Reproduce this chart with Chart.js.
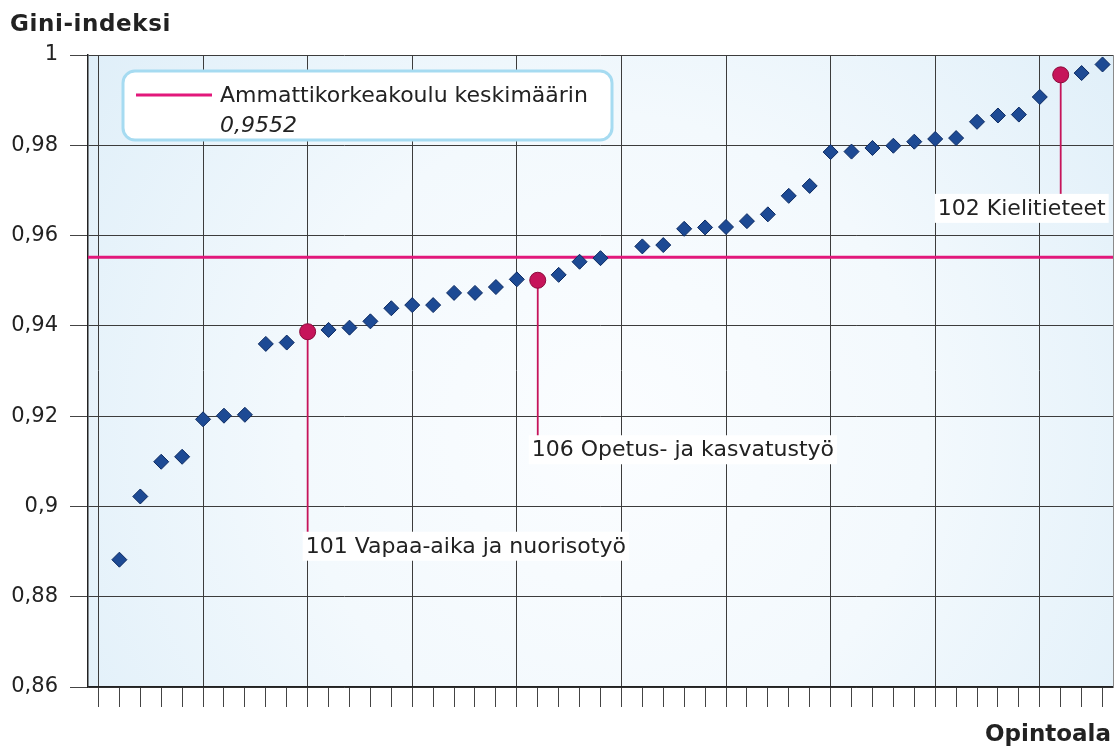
<!DOCTYPE html>
<html>
<head>
<meta charset="utf-8">
<script src="https://cdn.jsdelivr.net/npm/chart.js@4.4.1/dist/chart.umd.min.js"></script>
<style>
  html, body { margin: 0; padding: 0; background: #fff; }
  #wrap { width: 1117px; height: 749px; position: relative; }
</style>
</head>
<body>
<div id="wrap"><canvas id="chart"></canvas></div>
<script>
// Gini index per study field, sorted; slot 0 and slot 25 are empty on the axis
const GINI = [
  null,   0.8882, 0.9022, 0.9099, 0.9110, 0.9193, 0.9201, 0.9203, 0.9360, 0.9363,
  0.9387, 0.9391, 0.9396, 0.9410, 0.9439, 0.9446, 0.9446, 0.9473, 0.9473, 0.9486,
  0.9503, 0.9501, 0.9513, 0.9542, 0.9550, null,   0.9576, 0.9579, 0.9615, 0.9618,
  0.9619, 0.9632, 0.9647, 0.9688, 0.9710, 0.9785, 0.9786, 0.9794, 0.9799, 0.9808,
  0.9814, 0.9816, 0.9852, 0.9866, 0.9868, 0.9907, 0.9956, 0.9960, 0.9979,
];
const HIGHLIGHT = [10, 21, 46];
const HIGHLIGHT_LABELS = ['101 Vapaa-aika ja nuorisotyö', '106 Opetus- ja kasvatustyö', '102 Kielitieteet'];
const MEAN = 0.9552;
const MEAN_LABEL = 'Ammattikorkeakoulu keskimäärin';
const MEAN_TEXT = '0,9552';
const Y_TITLE = 'Gini-indeksi';
const X_TITLE = 'Opintoala';

const FONT = '"DejaVu Sans", Verdana, sans-serif';
const C = {
  diamond: '#1d4a94',
  diamondEdge: '#0c2a62',
  red: '#c6145a',
  redEdge: '#8a0c3b',
  mean: '#e2187b',
  grid: '#3c3c3c',
  axis: '#222',
  text: '#222',
  legendEdge: '#a6dbf1',
};

// where each label box sits relative to its point (pixels)
const LABEL_LAYOUT = [
  { drop: 200, dx: -5, align: 'left' },
  { drop: 155, dx: -9, align: 'left' },
  { drop: 119, dx: 48, align: 'right' },
];

const fmt = v => String(Number(v.toFixed(2))).replace('.', ',');

const decorPlugin = {
  id: 'decor',
  beforeDraw(chart) {
    const { ctx, chartArea: a } = chart;
    const g = ctx.createRadialGradient(610, 430, 0, 610, 430, 700);
    g.addColorStop(0, '#fbfdff');
    g.addColorStop(0.45, '#f3f9fd');
    g.addColorStop(1, '#dcedf8');
    ctx.save();
    ctx.fillStyle = g;
    ctx.fillRect(a.left, a.top, a.right - a.left, a.bottom - a.top);
    ctx.restore();
  },
  beforeDatasetsDraw(chart) {
    const { ctx, chartArea: a, scales: { x, y } } = chart;
    ctx.save();
    // right frame
    ctx.strokeStyle = '#8a8a8a';
    ctx.lineWidth = 1;
    ctx.beginPath();
    ctx.moveTo(a.right + 0.5, a.top);
    ctx.lineTo(a.right + 0.5, a.bottom);
    ctx.stroke();
    // mean line
    const my = y.getPixelForValue(MEAN);
    ctx.strokeStyle = C.mean;
    ctx.lineWidth = 3;
    ctx.beginPath();
    ctx.moveTo(a.left, my);
    ctx.lineTo(a.right, my);
    ctx.stroke();
    // leader lines
    ctx.strokeStyle = C.red;
    ctx.lineWidth = 1.8;
    HIGHLIGHT.forEach((idx, i) => {
      const px = x.getPixelForValue(idx);
      const py = y.getPixelForValue(GINI[idx]);
      ctx.beginPath();
      ctx.moveTo(px, py);
      ctx.lineTo(px, py + LABEL_LAYOUT[i].drop + 2);
      ctx.stroke();
    });
    ctx.restore();
  },
  afterDatasetsDraw(chart) {
    const { ctx, scales: { x, y } } = chart;
    ctx.save();
    ctx.font = `22px ${FONT}`;
    ctx.textBaseline = 'middle';
    HIGHLIGHT.forEach((idx, i) => {
      const L = LABEL_LAYOUT[i];
      const px = x.getPixelForValue(idx);
      const py = y.getPixelForValue(GINI[idx]);
      const w = ctx.measureText(HIGHLIGHT_LABELS[i]).width + 6;
      const top = py + L.drop;
      const left = L.align === 'left' ? px + L.dx : px + L.dx - w;
      ctx.fillStyle = '#fff';
      ctx.fillRect(left, top, w, 29);
      ctx.fillStyle = C.text;
      ctx.textAlign = 'left';
      ctx.fillText(HIGHLIGHT_LABELS[i], left + 3, top + 15.5);
    });

    // legend box
    const bx = 123, by = 71, bw = 489, bh = 69, r = 12;
    ctx.beginPath();
    ctx.roundRect(bx, by, bw, bh, r);
    ctx.fillStyle = '#fff';
    ctx.fill();
    ctx.strokeStyle = C.legendEdge;
    ctx.lineWidth = 3;
    ctx.stroke();
    ctx.strokeStyle = C.mean;
    ctx.lineWidth = 3;
    ctx.beginPath();
    ctx.moveTo(136, 95);
    ctx.lineTo(212, 95);
    ctx.stroke();
    ctx.fillStyle = C.text;
    ctx.font = `22px ${FONT}`;
    ctx.fillText(MEAN_LABEL, 220, 96);
    ctx.font = `italic 22px ${FONT}`;
    ctx.fillText(MEAN_TEXT, 220, 126);

    // axis titles
    ctx.font = `bold 23px ${FONT}`;
    ctx.letterSpacing = '0.6px';
    ctx.fillText(Y_TITLE, 10, 25);
    ctx.letterSpacing = '0px';
    ctx.textAlign = 'right';
    ctx.fillText(X_TITLE, 1111, 735);
    ctx.restore();
  },
};

const isHi = c => HIGHLIGHT.includes(c.dataIndex);

new Chart(document.getElementById('chart'), {
  type: 'line',
  data: {
    labels: GINI.map((_, i) => String(i)),
    datasets: [{
      data: GINI,
      showLine: false,
      clip: false,
      pointStyle: c => isHi(c) ? 'circle' : 'rectRot',
      pointRadius: c => isHi(c) ? 8 : 7.5,
      pointBackgroundColor: c => isHi(c) ? C.red : C.diamond,
      pointBorderColor: c => isHi(c) ? C.redEdge : C.diamondEdge,
      pointBorderWidth: 1,
    }],
  },
  options: {
    responsive: true,
    maintainAspectRatio: false,
    animation: false,
    events: [],
    layout: { autoPadding: false, padding: { left: 0, right: 4, top: 55, bottom: 0 } },
    plugins: {
      legend: { display: false },
      tooltip: { enabled: false },
    },
    scales: {
      x: {
        type: 'category',
        offset: true,
        afterFit: s => { s.height = 62; },
        ticks: { display: false },
        grid: {
          offset: false,
          color: c => (c.index % 5 === 0 ? C.grid : 'rgba(0,0,0,0)'),
          tickColor: '#444',
          tickLength: 20,
          lineWidth: 1,
        },
        border: { color: C.axis, width: 1.5 },
      },
      y: {
        min: 0.86,
        max: 1,
        afterFit: s => { s.width = 88; },
        ticks: {
          stepSize: 0.02,
          padding: 12,
          color: C.text,
          font: { family: FONT, size: 21 },
          callback: v => fmt(v),
        },
        grid: { color: C.grid, tickColor: '#444', tickLength: 18, lineWidth: 1 },
        border: { color: C.axis, width: 1.5 },
      },
    },
  },
  plugins: [decorPlugin],
});
</script>
</body>
</html>
